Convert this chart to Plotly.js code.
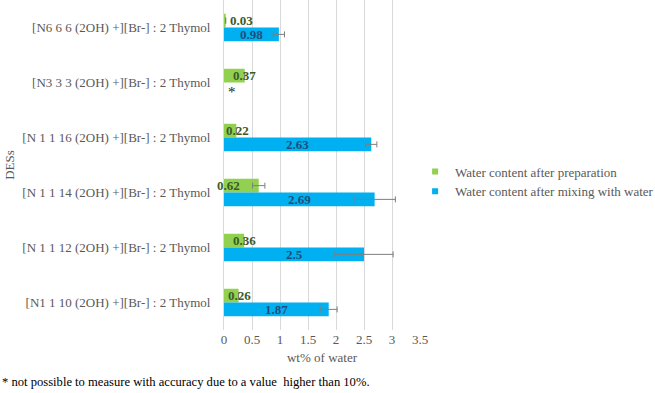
<!DOCTYPE html>
<html><head><meta charset="utf-8">
<script src="https://cdn.plot.ly/plotly-3.0.1.min.js"></script>
<style>html,body{margin:0;padding:0;background:#fff}</style>
</head><body>
<div id="chart" style="width:655px;height:393px"></div>
<script>
const categories = [
  "[N6 6 6 (2OH) +][Br-] : 2 Thymol",
  "[N3 3 3 (2OH) +][Br-] : 2 Thymol",
  "[N 1 1 16 (2OH) +][Br-] : 2 Thymol",
  "[N 1 1 14 (2OH) +][Br-] : 2 Thymol",
  "[N 1 1 12 (2OH) +][Br-] : 2 Thymol",
  "[N1 1 10 (2OH) +][Br-] : 2 Thymol"
];
const seriesNames = ["Water content after preparation", "Water content after mixing with water"];
const afterPreparation = [0.03, 0.37, 0.22, 0.62, 0.36, 0.26];
const afterPreparationErr = [0, 0, 0, 0.11, 0, 0];
const afterMixing = [0.98, null, 2.63, 2.69, 2.5, 1.87];
const afterMixingErr = [0.1, 0, 0.1, 0.37, 0.52, 0.15];
const xTicks = [0, 0.5, 1, 1.5, 2, 2.5, 3, 3.5];
const notMeasured = "*";
const footnote = "* not possible to measure with accuracy due to a value  higher than 10%.";

// label horizontal offsets (style only, px)
const prepLabelShift = [16, 0, 1, -30, 0, 1];

const serif = "Liberation Serif";
const green = "#92D050", blue = "#00B0F0";

const traces = [
  {type:"bar", orientation:"h", name:seriesNames[0], y:categories, x:afterPreparation,
   marker:{color:green}, showlegend:false,
   error_x:{type:"data", array:afterPreparationErr, visible:true, color:"#7f7f7f", thickness:1, width:3},
   hoverinfo:"x"},
  {type:"bar", orientation:"h", name:seriesNames[1], y:categories, x:afterMixing,
   marker:{color:blue}, showlegend:false,
   error_x:{type:"data", array:afterMixingErr, visible:true, color:"#7f7f7f", thickness:1, width:3},
   hoverinfo:"x"},
  {type:"scatter", mode:"markers", name:seriesNames[0], x:[null], y:[null],
   marker:{symbol:"square", size:6, color:green}, showlegend:true},
  {type:"scatter", mode:"markers", name:seriesNames[1], x:[null], y:[null],
   marker:{symbol:"square", size:6, color:blue}, showlegend:true}
];

const annotations = [];
categories.forEach((c, i) => {
  annotations.push({x:afterPreparation[i], y:c, xref:"x", yref:"y", text:"<b>" + afterPreparation[i] + "</b>",
    showarrow:false, xanchor:"center", yanchor:"middle", xshift:prepLabelShift[i], yshift:7,
    font:{family:serif, size:13, color:"#3a5a28"}});
  if (afterMixing[i] !== null) {
    annotations.push({x:afterMixing[i]/2, y:c, xref:"x", yref:"y", text:"<b>" + afterMixing[i] + "</b>",
      showarrow:false, xanchor:"center", yanchor:"middle", yshift:-7,
      font:{family:serif, size:13, color:"#1f4e79"}});
  } else {
    annotations.push({x:0, y:c, xref:"x", yref:"y", text:notMeasured,
      showarrow:false, xanchor:"center", yanchor:"middle", xshift:8, yshift:-9,
      font:{family:serif, size:15, color:"#222"}});
  }
});
annotations.push({x:0, y:0, xref:"paper", yref:"paper", xanchor:"left", yanchor:"middle",
  text:footnote, showarrow:false, xshift:-224, yshift:-52,
  font:{family:serif, size:12.6, color:"#000"}});

const layout = {
  width:655, height:393,
  margin:{l:224, r:235, t:0, b:63, autoexpand:false},
  paper_bgcolor:"#fff", plot_bgcolor:"#fff",
  barmode:"group", bargap:0.5, bargroupgap:0,
  font:{family:serif, size:13, color:"#595959"},
  xaxis:{range:[0,3.5], tickvals:xTicks, ticktext:xTicks.map(String),
    showgrid:true, gridcolor:"#d9d9d9", gridwidth:1, zeroline:false, showline:false,
    ticks:"", tickfont:{family:serif, size:13, color:"#595959"},
    title:{text:"wt% of water", font:{family:serif, size:13, color:"#595959"}, standoff:6}},
  yaxis:{type:"category", autorange:"reversed", showgrid:false, zeroline:false,
    showline:true, linecolor:"#d9d9d9", ticks:"", ticklabelstandoff:10,
    tickfont:{family:serif, size:13, color:"#595959"},
    title:{text:"DESs", font:{family:serif, size:13, color:"#595959"}, standoff:4}},
  legend:{x:0.975, y:0.45, xanchor:"left", yanchor:"middle", bgcolor:"rgba(0,0,0,0)",
    font:{family:serif, size:13, color:"#595959"}, itemwidth:30, tracegroupgap:0},
  showlegend:true,
  annotations:annotations
};

Plotly.newPlot("chart", traces, layout, {displayModeBar:false, staticPlot:true});
</script>
</body></html>
